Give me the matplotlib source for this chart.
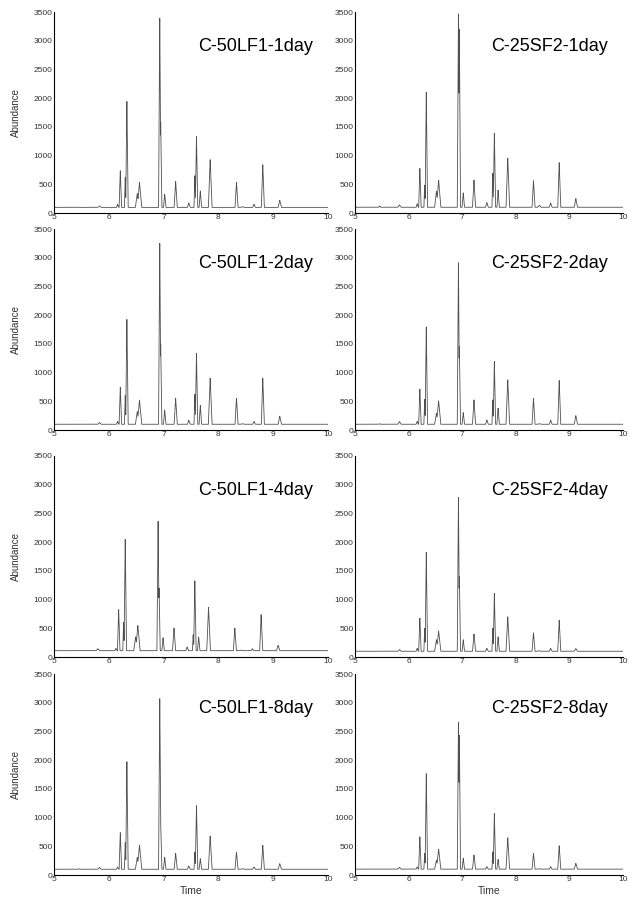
import numpy as np
import matplotlib
matplotlib.use('Agg')
import matplotlib.pyplot as plt
from matplotlib import rcParams

rcParams['font.family'] = ['Liberation Sans', 'DejaVu Sans']

# sample names, in panel order (left column / right column, row by row)
titles = ['C-50LF1-1day', 'C-25SF2-1day',
          'C-50LF1-2day', 'C-25SF2-2day',
          'C-50LF1-4day', 'C-25SF2-4day',
          'C-50LF1-8day', 'C-25SF2-8day']

# retention times of the peaks (min) and half base width of each peak
peak_times = [5.46, 5.83, 6.16, 6.21, 6.30, 6.33, 6.52, 6.56, 6.93, 6.947, 7.02,
              7.22, 7.46, 7.57, 7.60, 7.67, 7.85, 8.33, 8.44, 8.65, 8.81, 9.12]
peak_halfw = [0.02, 0.03, 0.02, 0.022, 0.015, 0.022, 0.035, 0.04, 0.022, 0.02, 0.022,
              0.028, 0.025, 0.015, 0.022, 0.022, 0.033, 0.027, 0.03, 0.025, 0.027, 0.03]

# retention time drift per run
time_shift = [0, 0, 0, 0, -0.03, 0, 0, 0]
baseline = [98, 100, 100, 100, 110, 100, 100, 102]

# apex abundance of each peak, per panel
h_L1 = [100, 122, 150, 735, 618, 1943, 338, 531, 3390, 1581, 327, 548, 175, 648, 1330, 385, 928, 531, 110, 152, 840, 222]
h_R1 = [123, 140, 160, 777, 485, 2104, 380, 573, 3466, 3200, 350, 573, 181, 690, 1391, 397, 953, 561, 135, 175, 877, 251]
h_L2 = [100, 130, 150, 745, 600, 1924, 320, 520, 3250, 1500, 346, 555, 170, 620, 1334, 430, 900, 555, 110, 150, 900, 240]
h_R2 = [110, 146, 150, 711, 536, 1794, 290, 507, 2912, 1456, 303, 524, 175, 524, 1194, 379, 874, 553, 110, 175, 862, 250]
h_L4 = [110, 144, 150, 825, 600, 2047, 350, 548, 2364, 1200, 334, 502, 173, 386, 1326, 346, 865, 502, 120, 144, 738, 202]
h_R4 = [100, 130, 150, 675, 500, 1820, 300, 450, 2780, 1400, 300, 400, 150, 500, 1110, 350, 700, 420, 110, 150, 640, 146]
h_L8 = [110, 133, 140, 737, 563, 1973, 308, 517, 3070, 900, 308, 377, 157, 400, 1207, 284, 679, 400, 110, 139, 517, 197]
h_R8 = [100, 133, 140, 665, 376, 1764, 260, 451, 2661, 2430, 290, 347, 145, 400, 1070, 272, 648, 376, 110, 145, 509, 202]
heights = [h_L1, h_R1, h_L2, h_R2, h_L4, h_R4, h_L8, h_R8]

fig = plt.figure(figsize=(6.3, 8.97), dpi=100)

col_x = [54 / 630, 355 / 630]
col_w = [274 / 630, 268 / 630]
row_bottom = [1 - 213 / 897, 1 - 430 / 897, 1 - 657 / 897, 1 - 875 / 897]
ax_h = 201 / 897

t = np.linspace(5, 10, 5001)

for i, title in enumerate(titles):
    row, col = divmod(i, 2)
    ax = fig.add_axes([col_x[col], row_bottom[row], col_w[col], ax_h])

    base = baseline[i]
    sig = np.full_like(t, base, dtype=float)
    for tp, w, h in zip(peak_times, peak_halfw, heights[i]):
        tp = tp + time_shift[i]
        tri = np.interp(t, [tp - w, tp, tp + w], [base, h, base], left=base, right=base)
        sig = np.maximum(sig, tri)
    ax.plot(t, sig, color='#505050', linewidth=0.6)

    ax.set_xlim(5, 10)
    ax.set_ylim(0, 3500)
    ax.set_xticks([5, 6, 7, 8, 9, 10])
    ax.set_yticks(np.arange(0, 3501, 500))
    ax.tick_params(length=0, pad=1, labelsize=6, colors='#333333')
    for s in ['top', 'right']:
        ax.spines[s].set_visible(False)
    for s in ['left', 'bottom']:
        ax.spines[s].set_linewidth(0.8)
    ax.text(0.945, 0.83, title, transform=ax.transAxes, ha='right', va='center',
            fontsize=13)
    if col == 0:
        ax.set_ylabel('Abundance', fontsize=7, labelpad=9, color='#333333')
    if row == 3:
        ax.set_xlabel('Time', fontsize=7.5, labelpad=2, color='#333333')

fig.savefig('out.png', dpi=100)
